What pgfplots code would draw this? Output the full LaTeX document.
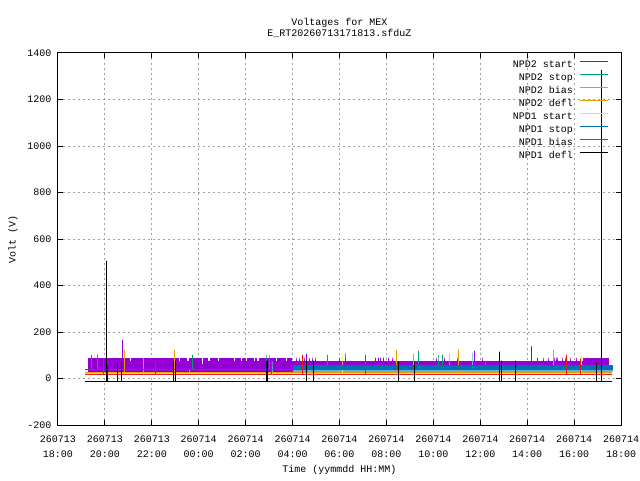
\documentclass[border=0pt]{standalone}
\usepackage{fontspec}
\setmainfont{Liberation Mono}
\usepackage{pgfplots}
\pgfplotsset{compat=1.18}
\definecolor{cPurple}{HTML}{9400D3}
\definecolor{cGreen}{HTML}{009E73}
\definecolor{cLBlue}{HTML}{56B4E9}
\definecolor{cOrange}{HTML}{E69F00}
\definecolor{cYellow}{HTML}{F0E442}
\definecolor{cBlue}{HTML}{0072B2}
\definecolor{cRed}{HTML}{E51E10}
\definecolor{cGrid}{HTML}{A0A0A0}
\begin{document}
\begin{tikzpicture}[line join=round]
\path[use as bounding box] (-58pt,-55pt) rectangle (582pt,425pt);
\begin{axis}[
  scale only axis, width=563pt, height=372pt,
  xmin=0, xmax=24, ymin=-200, ymax=1400,
  xtick={0,2,...,24},
  xticklabels={{260713\\18:00},{260713\\20:00},{260713\\22:00},{260714\\00:00},{260714\\02:00},{260714\\04:00},{260714\\06:00},{260714\\08:00},{260714\\10:00},{260714\\12:00},{260714\\14:00},{260714\\16:00},{260714\\18:00}},
  ytick={-200,0,200,400,600,800,1000,1200,1400},
  yticklabels={-200,0,200,400,600,800,1000,1200,1400},
  tick align=inside, major tick length=5pt,
  xtick pos=both, ytick pos=both,
  grid=major,
  major grid style={cGrid, line width=1pt, dash pattern=on 2pt off 3pt},
  axis line style={black, line width=1pt},
  every tick/.style={black, line width=1pt},
  tick label style={font=\fontsize{10}{15}\selectfont},
  xticklabel style={align=center, yshift=-7pt},
  yticklabel style={xshift=-3pt},
  xlabel={Time (yymmdd HH:MM)},
  ylabel={Volt (V)},
  xlabel style={at={(axis description cs:0.5,-0.121)}, anchor=center, font=\fontsize{10}{12}\selectfont},
  ylabel style={at={(axis description cs:-0.08,0.5)}, anchor=center, font=\fontsize{10}{12}\selectfont},
  legend style={draw=none, fill=none, at={(rel axis cs:1,1)}, anchor=north east, xshift=-12pt, yshift=-7pt,
    font=\fontsize{10}{12}\selectfont, inner sep=0pt, row sep=2.9pt,
    nodes={inner sep=0pt, text height=7.5pt, text depth=2.5pt},
    /tikz/every odd column/.append style={column sep=7pt}},
  legend cell align=right,
  legend plot pos=right,
  legend image code/.code={\path (0pt,0pt); \draw[#1] (0pt,3.3pt) -- (28pt,3.3pt);},
]
\addlegendimage{cPurple, line width=1pt}\addlegendentry{NPD2 start}
\addlegendimage{cGreen, line width=1pt}\addlegendentry{NPD2 stop}
\addlegendimage{cLBlue, line width=1pt}\addlegendentry{NPD2 bias}
\addlegendimage{cOrange, line width=1pt}\addlegendentry{NPD2 defl}
\addlegendimage{cYellow, line width=1pt}\addlegendentry{NPD1 start}
\addlegendimage{cBlue, line width=1pt}\addlegendentry{NPD1 stop}
\addlegendimage{cRed, line width=1pt}\addlegendentry{NPD1 bias}
\addlegendimage{black, line width=1pt}\addlegendentry{NPD1 defl}

% NPD2 start (dense oscillation drawn as its envelope)
\addplot[forget plot, cPurple, fill=cPurple, line width=1pt] coordinates {
(1.279,28)(1.279,88)
(2.741,88)(2.741,165)(2.741,88)
(3.027,88)(3.027,71)(3.117,71)(3.117,88)
(5.116,88)(5.116,71)(5.206,71)(5.206,88)
(5.499,88)(5.499,71)(5.589,71)(5.589,88)
(6.096,88)(6.096,59)(6.186,59)(6.186,88)
(6.394,88)(6.394,71)(6.484,71)(6.484,88)
(6.778,88)(6.778,75)(6.868,75)(6.868,88)
(7.460,88)(7.460,75)(7.550,75)(7.550,88)
(7.759,88)(7.759,75)(7.849,75)(7.849,88)
(7.972,88)(7.972,75)(8.062,75)(8.062,88)
(8.313,88)(8.313,75)(8.403,75)(8.403,88)
(8.483,88)(8.483,75)(8.573,75)(8.573,88)
(9.251,88)(9.251,75)(9.341,75)(9.341,88)
(9.677,88)(9.677,75)(9.767,75)(9.767,88)
(9.975,88)(9.975,71)
(10.146,71)(10.146,88)(10.146,71)
(10.316,71)(10.316,88)(10.316,71)
(10.529,71)(10.529,88)(10.529,71)
(10.593,71)(10.593,105)(10.593,71)
(10.700,71)(10.700,88)(10.700,71)
(10.828,71)(10.828,88)(10.828,71)
(10.998,71)(10.998,88)(10.998,71)
(11.979,71)(11.979,88)(11.979,71)
(12.277,71)(12.277,105)(12.277,71)
(13.514,71)(13.514,88)(13.514,71)
(13.642,71)(13.642,88)(13.642,71)
(13.727,71)(13.727,88)(13.727,71)
(13.855,71)(13.855,88)(13.855,71)
(14.068,71)(14.068,88)(14.068,71)
(14.238,71)(14.238,88)(14.238,71)
(16.156,71)(16.156,88)(16.156,71)
(16.497,71)(16.497,88)(16.497,71)
(17.009,71)(17.009,88)(17.009,71)
(17.734,71)(17.734,118)(17.734,71)
(18.117,71)(18.117,88)(18.117,71)
(20.164,71)(20.164,137)(20.164,71)
(20.420,71)(20.420,88)(20.420,71)
(20.675,71)(20.675,88)(20.675,71)
(20.888,71)(20.888,88)(20.888,71)
(21.144,71)(21.144,88)(21.144,71)
(21.229,71)(21.229,88)(21.229,71)
(21.314,71)(21.314,88)(21.314,71)
(21.527,71)(21.527,88)(21.527,71)
(21.655,71)(21.655,88)(21.655,71)
(21.826,71)(21.826,88)(21.826,71)
(22.124,71)(22.124,88)(22.124,71)
(22.380,71)(22.380,88)
(22.636,88)(22.636,71)(22.696,71)(22.696,88)
(22.764,88)(22.764,71)(22.824,71)(22.824,88)
(22.892,88)(22.892,71)(22.952,71)(22.952,88)
(23.020,88)(23.020,71)(23.080,71)(23.080,88)
(23.148,88)(23.148,71)(23.208,71)(23.208,88)
(23.276,88)(23.276,71)(23.336,71)(23.336,88)
(23.446,88)(23.446,28)(1.279,28)
};

% NPD2 stop
\addplot[forget plot, cGreen, line width=1pt] coordinates {
(1.151,40)(1.420,40)(1.420,101)(1.420,40)(1.675,40)(1.675,101)(1.675,40)
(5.725,40)(5.725,101)(5.725,40)(8.867,40)(8.867,101)(8.867,40)
(8.995,40)(8.995,101)(8.995,40)(11.480,40)(11.480,101)(11.480,40)
(15.347,40)(15.347,118)(15.347,40)(16.199,40)(16.199,101)(16.199,40)
(16.370,40)(16.370,101)(16.370,40)(18.203,40)(18.203,75)(18.203,40)
(23.617,40)
};

% NPD2 bias
\addplot[forget plot, cLBlue, fill=cLBlue, line width=1pt] coordinates {
(1.151,27)(3.636,27)(3.636,88)(3.636,27)(9.165,27)(9.165,71)(9.165,27)
(10.018,27)(10.018,33.5)(17.690,33.5)(17.690,110)(17.690,33.5)(23.617,33.5)
(23.617,30.5)(10.018,30.5)(10.018,27)(1.151,27)
};

% NPD2 defl
\addplot[forget plot, cOrange, line width=1pt] coordinates {
(1.151,27)(2.826,27)(2.826,122)(2.826,27)(4.958,27)(4.958,122)(4.958,27)
(5.585,27)(5.585,36)(5.585,27)(14.439,27)(14.439,122)(14.439,27)
(15.134,27)(15.134,105)(15.134,27)(16.668,27)(16.668,105)(16.668,27)
(17.052,27)(17.052,122)(17.052,27)(21.102,27)(21.102,122)(21.102,27)
(23.617,27)
};

% NPD1 start
\addplot[forget plot, cYellow, line width=1pt] coordinates {
(1.151,22.5)(12.149,22.5)(12.149,92)(12.149,22.5)(22.317,22.5)(22.317,92)(22.317,22.5)(23.617,22.5)
};

% NPD1 stop
\addplot[forget plot, cBlue, fill=cBlue, line width=1pt] coordinates {
(1.151,40)(10.018,40)(10.018,56)(23.617,56)(23.617,38)(10.018,38)(10.018,40)(1.151,40)
};

% NPD1 bias
\addplot[forget plot, cRed, line width=1pt] coordinates {
(1.151,18)(1.931,18)(1.931,84)(1.931,18)(4.156,18)(4.156,72)(4.156,18)
(9.093,18)(9.093,82)(9.093,18)(10.414,18)(10.414,101)(10.414,18)
(13.117,18)(13.117,101)(13.117,18)(21.677,18)(21.677,101)(21.677,18)
(22.274,18)(22.274,84)(22.274,18)(23.617,18)
};

% NPD1 defl
\addplot[forget plot, black, line width=1pt] coordinates {
(1.151,-11)(2.059,-11)(2.059,505)(2.059,-11)(2.089,-11)(2.089,53)(2.089,-11)
(2.528,-11)(2.528,72)(2.528,-11)(2.686,-11)(2.686,75)(2.686,-11)
(2.720,-11)(2.720,75)(2.720,-11)(4.915,-11)(4.915,75)(4.915,-11)
(4.988,-11)(4.988,75)(4.988,-11)(8.867,-11)(8.867,75)(8.867,-11)
(8.910,-11)(8.910,75)(8.910,-11)(10.593,-11)(10.593,75)(10.593,-11)
(10.883,-11)(10.883,75)(10.883,-11)(14.507,-11)(14.507,72)(14.507,-11)
(15.189,-11)(15.189,72)(15.189,-11)(18.813,-11)(18.813,114)(18.813,-11)
(18.906,-11)(18.906,75)(18.906,-11)(19.495,-11)(19.495,75)(19.495,-11)
(22.948,-11)(22.948,67)(22.948,-11)(23.169,-11)(23.169,1325)(23.169,-11)
(23.617,-11)
};
\end{axis}
\node[anchor=base, yshift=27.7pt] at (current axis.north) {Voltages for MEX};
\node[anchor=base, yshift=16.5pt] at (current axis.north) {E\_RT20260713171813.sfduZ};
\end{tikzpicture}
\end{document}
